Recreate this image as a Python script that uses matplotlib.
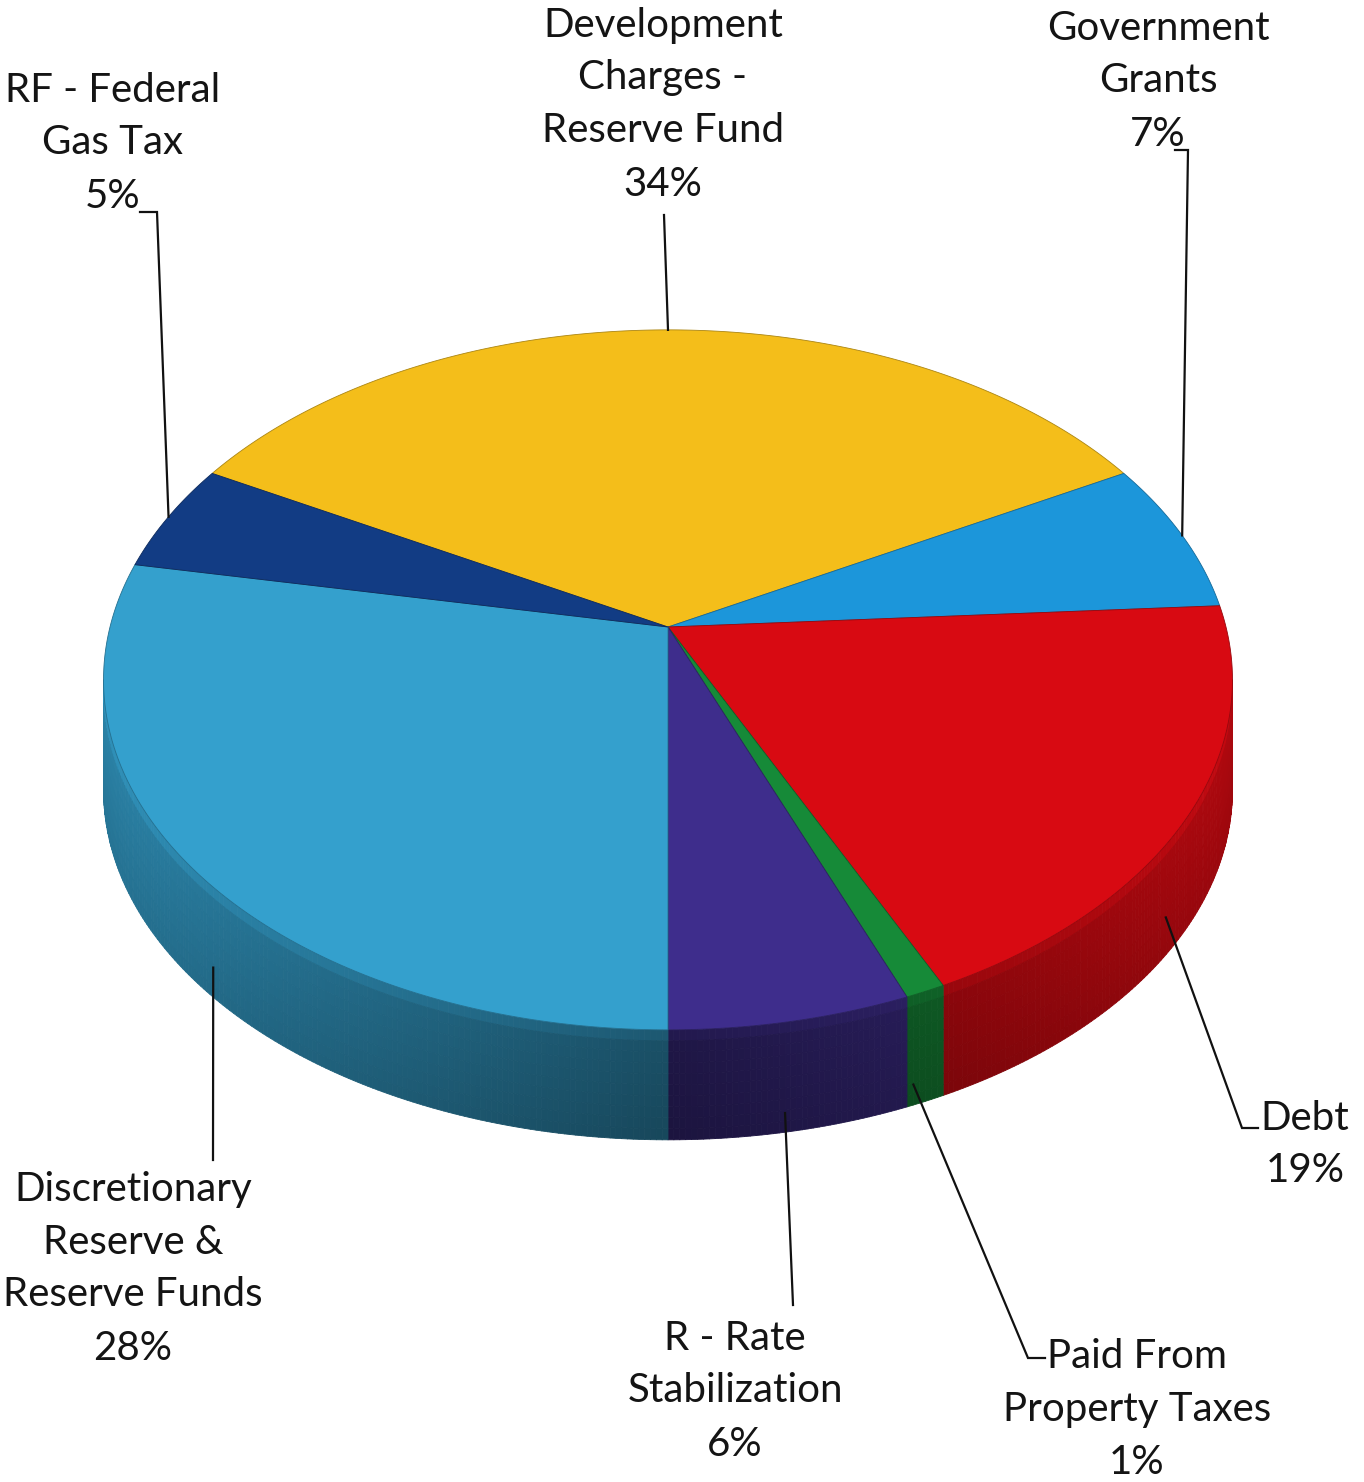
import numpy as np
import matplotlib.pyplot as plt
import matplotlib.colors as mcolors
from matplotlib.patches import Polygon
from matplotlib.collections import PolyCollection

# slice data, clockwise from the Development Charges slice
labels = ['Development\nCharges -\nReserve Fund', 'Government\nGrants', 'Debt',
          'Paid From\nProperty Taxes', 'R - Rate\nStabilization',
          'Discretionary\nReserve &\nReserve Funds', 'RF - Federal\nGas Tax']
shares = [34, 7, 19, 1, 6, 28, 5]
colors = ['#F4BE1A', '#1C96DA', '#D80A12', '#168A38', '#3E2D8C', '#34A0CD', '#123C84']

# label placement (centre x, first line y) and leader bend / end points
label_xy = [(663, 25), (1158, 28), (1305, 1118), (1137, 1357), (735, 1338),
            (133, 1189), (113, 90)]
leader_bend = [(664, 215), (1188, 150), (1242, 1128), (1028, 1358), (793, 1305),
               (213, 1160), (157, 212)]
leader_end = [(664, 215), (1175, 150), (1258, 1128), (1045, 1358), (793, 1305),
              (213, 1160), (140, 212)]

# 3d pie geometry (pixels)
CX, CY = 668, 627
A, B, K = 558, 342, 0.151
DEPTH = 110
START = 151.2


def proj(theta, r=1.0):
    t = np.radians(theta)
    u, v = r * np.cos(t), r * np.sin(t)
    w = 1 + K * v
    return CX + A * u / w, CY - B * v / w


fig = plt.figure(figsize=(13.64, 14.82), dpi=100)
ax = fig.add_axes([0, 0, 1, 1])
ax.set_xlim(0, 1364)
ax.set_ylim(1482, 0)
ax.axis('off')

bounds = START - 3.6 * np.concatenate([[0], np.cumsum(shares)])
sil = np.degrees(np.arcsin(K))
front_lo, front_hi = -180 + sil, -sil

# side walls
for i, c in enumerate(colors):
    hi, lo = bounds[i], bounds[i + 1]
    a0, a1 = max(lo, front_lo), min(hi, front_hi)
    if a1 <= a0:
        continue
    th = np.linspace(a0, a1, max(3, int((a1 - a0) * 2)))
    base = np.array(mcolors.to_rgb(c))
    polys, cols = [], []
    nz = 10
    for j in range(len(th) - 1):
        x0, y0 = proj(th[j])
        x1, y1 = proj(th[j + 1])
        tm = np.radians(0.5 * (th[j] + th[j + 1]))
        f = 0.5 + 0.33 * abs(np.cos(tm))
        for k in range(nz):
            d0, d1 = DEPTH * k / nz, DEPTH * (k + 1) / nz
            polys.append([(x0, y0 + d0), (x1, y1 + d0), (x1, y1 + d1), (x0, y0 + d1)])
            g = 1.0 - 0.12 * k / nz
            if k == 0:
                g = 1.1
            cols.append(np.clip(base * f * g, 0, 1))
    ax.add_collection(PolyCollection(polys, facecolors=cols, edgecolors=cols,
                                     linewidths=0.6))

# top faces
for i, c in enumerate(colors):
    th = np.linspace(bounds[i], bounds[i + 1], 200)
    xs, ys = proj(th)
    pts = [(CX, CY)] + list(zip(xs, ys))
    edge = np.array(mcolors.to_rgb(c)) * 0.7
    ax.add_patch(Polygon(pts, closed=True, facecolor=c, edgecolor=edge,
                         linewidth=0.6, joinstyle='round'))

# labels and leader lines
for i in range(len(shares)):
    mid = 0.5 * (bounds[i] + bounds[i + 1])
    if np.sin(np.radians(mid)) < 0:
        ax_, ay_ = proj(mid, 0.96)
        ay_ += DEPTH
    else:
        ax_, ay_ = proj(mid)
    bx, by = leader_bend[i]
    ex, ey = leader_end[i]
    ax.plot([ax_, bx, ex], [ay_, by, ey], color='#111111', lw=1.6,
            solid_joinstyle='miter')
    lines = labels[i].split('\n') + [f'{shares[i]}%']
    x, y = label_xy[i]
    for n, s in enumerate(lines):
        ax.text(x, y + 53 * n, s, ha='center', va='center', fontsize=29,
                family='Lato', color='#141414')

fig.savefig('out.png', dpi=100, facecolor='white')
